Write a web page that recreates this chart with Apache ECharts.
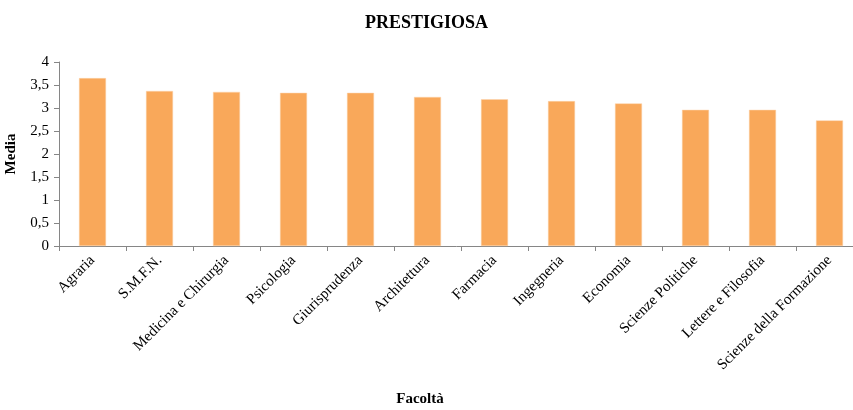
<!DOCTYPE html>
<html>
<head>
<meta charset="utf-8">
<script src="https://cdn.jsdelivr.net/npm/echarts@6/dist/echarts.min.js"></script>
<style>
  html, body { margin: 0; padding: 0; background: #fff; }
  #chart { width: 853px; height: 410px; }
</style>
</head>
<body>
<div id="chart"></div>
<script>
// facoltà e media "prestigiosa"
const facolta = ["Agraria", "S.M.F.N.", "Medicina e Chirurgia", "Psicologia", "Giurisprudenza",
  "Architettura", "Farmacia", "Ingegneria", "Economia", "Scienze Politiche",
  "Lettere e Filosofia", "Scienze della Formazione"];
const media = [3.65, 3.37, 3.35, 3.33, 3.33, 3.24, 3.19, 3.15, 3.10, 2.96, 2.96, 2.73];
const yTicks = [0, 0.5, 1, 1.5, 2, 2.5, 3, 3.5, 4];

const font = "'Liberation Serif', 'DejaVu Serif', serif";
const chart = echarts.init(document.getElementById("chart"));
chart.setOption({
  animation: false,
  textStyle: { fontFamily: font },
  title: {
    text: "PRESTIGIOSA",
    left: "center",
    top: 9,
    textStyle: { fontFamily: font, fontSize: 18, fontWeight: "bold", color: "#000" }
  },
  // the plot runs a little past the right edge, like the original
  grid: { left: 59, width: 804, top: 62, height: 184, outerBoundsMode: "none", containLabel: false },
  xAxis: {
    type: "category",
    data: facolta,
    name: "Facoltà",
    nameLocation: "middle",
    nameGap: 146,
    nameTextStyle: { fontFamily: font, fontSize: 15, fontWeight: "bold", color: "#000", padding: [0, 82, 0, 0] },
    axisLine: { lineStyle: { color: "#868686" } },
    axisTick: { show: true, alignWithLabel: false, length: 5, lineStyle: { color: "#868686" } },
    axisLabel: { rotate: 45, interval: 0, fontSize: 15, color: "#000", margin: 12 }
  },
  yAxis: {
    type: "value",
    min: 0,
    max: 4,
    interval: 0.5,
    name: "Media",
    nameLocation: "middle",
    nameGap: 40,
    nameRotate: 90,
    nameTextStyle: { fontFamily: font, fontSize: 15, fontWeight: "bold", color: "#000" },
    axisLine: { show: true, lineStyle: { color: "#868686" } },
    axisTick: { show: true, length: 5, lineStyle: { color: "#868686" } },
    splitLine: { show: false },
    axisLabel: {
      fontSize: 15,
      color: "#000",
      margin: 10,
      formatter: v => (yTicks.includes(v) ? String(v).replace(".", ",") : "")
    }
  },
  series: [{
    type: "bar",
    data: media,
    barWidth: 27,
    itemStyle: { color: "#F9A85A", borderColor: "#FCD3AD", borderWidth: 0.5 }
  }]
});
</script>
</body>
</html>
